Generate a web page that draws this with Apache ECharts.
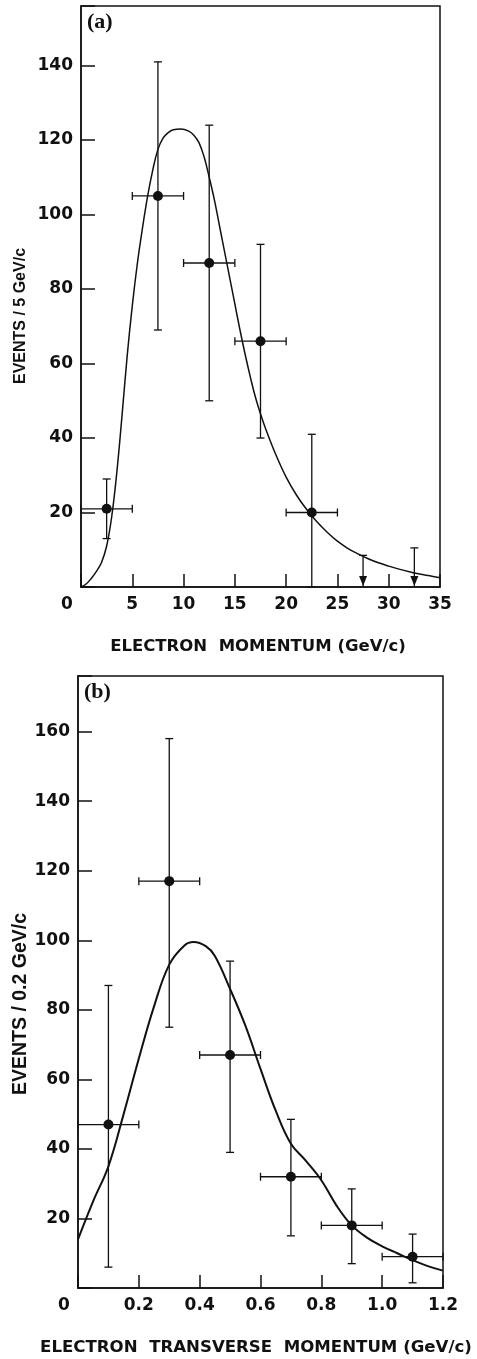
<!DOCTYPE html>
<html>
<head>
<meta charset="utf-8">
<script src="https://cdn.jsdelivr.net/npm/echarts@6/dist/echarts.min.js"></script>
<style>
  html, body { margin: 0; padding: 0; background: #fff; }
  #chart { width: 477px; height: 1359px; }
</style>
</head>
<body>
<div id="chart"></div>
<script>
// ---------- Panel (a): electron momentum ----------
const aX      = [2.5, 7.5, 12.5, 17.5, 22.5];
const aY      = [21, 105, 87, 66, 20];
const aYLow   = [13, 69, 50, 40, 0];
const aYHigh  = [29, 141, 124, 92, 41];
const aXHalf  = [2.5, 2.5, 2.5, 2.5, 2.5];
const aLimX   = [27.5, 32.5];
const aLimY   = [8.5, 10.5];
const aCurveX = [0, 0.5, 1, 1.5, 2, 2.5, 3, 3.5, 4, 4.5, 5, 5.5, 6, 6.5, 7, 7.5, 8, 8.5, 9, 9.75, 10.5, 11, 11.5, 12, 12.5, 13, 13.5, 14, 14.5, 15, 15.5, 16, 16.5, 17, 17.5, 18, 19, 20, 21, 22, 23, 24, 25, 26, 27, 28, 29, 30, 31, 32, 33, 34, 35];
const aCurveY = [0, 0.8, 2.3, 4.2, 6.6, 11, 19, 31, 46, 62, 75.5, 87, 96.5, 105, 112, 117.5, 120.5, 122, 122.8, 123, 122.4, 121.3, 119.3, 115.5, 110, 104, 97, 90, 83, 76, 69, 62.5, 56.5, 51, 46.5, 42.5, 35.5, 29.5, 24.7, 20.8, 17.5, 14.7, 12.3, 10.4, 8.9, 7.6, 6.5, 5.6, 4.8, 4.1, 3.5, 3, 2.5];
const aXTicks = [0, 5, 10, 15, 20, 25, 30, 35];
const aYTicks = [20, 40, 60, 80, 100, 120, 140];

// ---------- Panel (b): electron transverse momentum ----------
const bX      = [0.1, 0.3, 0.5, 0.7, 0.9, 1.1];
const bY      = [47, 117, 67, 32, 18, 9];
const bYLow   = [6, 75, 39, 15, 7, 1.5];
const bYHigh  = [87, 158, 94, 48.5, 28.5, 15.5];
const bXHalf  = [0.1, 0.1, 0.1, 0.1, 0.1, 0.1];
const bCurveX = [0, 0.05, 0.1, 0.15, 0.2, 0.25, 0.3, 0.35, 0.38, 0.42, 0.45, 0.5, 0.55, 0.6, 0.65, 0.7, 0.75, 0.8, 0.85, 0.9, 0.95, 1.0, 1.05, 1.1, 1.15, 1.2];
const bCurveY = [14, 25, 35, 50, 66, 81, 93, 98.5, 99.5, 98.3, 95.5, 86, 75.5, 63, 51, 41.5, 36.5, 31, 23.7, 18, 14.5, 12, 10, 8, 6.3, 5];
const bXTicks = ['0', '0.2', '0.4', '0.6', '0.8', '1.0', '1.2'];
const bYTicks = [20, 40, 60, 80, 100, 120, 140, 160];

const INK = '#111';
const TICK_FONT = { fontFamily: 'DejaVu Sans', fontWeight: 'bold', fontSize: 17, color: INK };

function zip(...arrs) { return arrs[0].map((_, i) => arrs.map(a => a[i])); }

function errRender(params, api) {
  const x = api.value(0), y = api.value(1), lo = api.value(2), hi = api.value(3), hw = api.value(4);
  const pLo = api.coord([x, lo]);
  const pHi = api.coord([x, hi]);
  const pL = api.coord([x - hw, y]);
  const pR = api.coord([x + hw, y]);
  const c = 4;
  const st = { stroke: INK, lineWidth: 1.3 };
  const L = (x1, y1, x2, y2) => ({ type: 'line', shape: { x1, y1, x2, y2 }, style: st });
  return {
    type: 'group',
    children: [
      L(pLo[0], pLo[1], pHi[0], pHi[1]),
      L(pHi[0] - c, pHi[1], pHi[0] + c, pHi[1]),
      L(pLo[0] - c, pLo[1], pLo[0] + c, pLo[1]),
      L(pL[0], pL[1], pR[0], pR[1]),
      L(pL[0], pL[1] - c, pL[0], pL[1] + c),
      L(pR[0], pR[1] - c, pR[0], pR[1] + c)
    ]
  };
}

function limRender(params, api) {
  const x = api.value(0), y = api.value(1);
  const pTop = api.coord([x, y]);
  const pBot = api.coord([x, 0]);
  const c = 4;
  const st = { stroke: INK, lineWidth: 1.3 };
  return {
    type: 'group',
    children: [
      { type: 'line', shape: { x1: pTop[0], y1: pTop[1], x2: pBot[0], y2: pBot[1] }, style: st },
      { type: 'line', shape: { x1: pTop[0] - c, y1: pTop[1], x2: pTop[0] + c, y2: pTop[1] }, style: st },
      { type: 'polygon', shape: { points: [[pBot[0] - 4, pBot[1] - 11], [pBot[0] + 4, pBot[1] - 11], [pBot[0], pBot[1] - 1]] }, style: { fill: INK } }
    ]
  };
}

function xAxisCfg(gi, min, max, interval, fmt) {
  return {
    gridIndex: gi, type: 'value', min, max, interval,
    axisLine: { show: true, onZero: false, lineStyle: { color: INK, width: 1.5 } },
    axisTick: { show: true, inside: true, length: 13, lineStyle: { color: INK, width: 1.5 } },
    axisLabel: Object.assign({}, TICK_FONT, {
      margin: 9,
      formatter: fmt,
      rich: { z: Object.assign({}, TICK_FONT, { padding: [0, 28, 0, 0] }) }
    }),
    splitLine: { show: false }
  };
}
function yAxisCfg(gi, max, ticks) {
  return {
    gridIndex: gi, type: 'value', min: 0, max, interval: 20,
    axisLine: { show: true, lineStyle: { color: INK, width: 1.5 } },
    axisTick: { show: true, inside: true, length: 14, lineStyle: { color: INK, width: 1.5 } },
    axisLabel: Object.assign({}, TICK_FONT, {
      margin: 8,
      formatter: v => (ticks.indexOf(v) >= 0 ? String(v) : '')
    }),
    splitLine: { show: false }
  };
}

const chart = echarts.init(document.getElementById('chart'), null, { renderer: 'canvas' });
chart.setOption({
  backgroundColor: '#fff',
  animation: false,
  grid: [
    { left: 81, top: 6, width: 359, height: 581, show: true, borderColor: INK, borderWidth: 1.5, backgroundColor: 'transparent' },
    { left: 78, top: 676, width: 365, height: 612, show: true, borderColor: INK, borderWidth: 1.5, backgroundColor: 'transparent' }
  ],
  xAxis: [
    xAxisCfg(0, 0, 35, 5, v => (v === 0 ? '{z|0}' : (aXTicks.indexOf(v) >= 0 ? String(v) : ''))),
    xAxisCfg(1, 0, 1.2, 0.2, v => {
      const s = (Math.round(v * 10) / 10).toFixed(1);
      if (Math.abs(v) < 1e-9) return '{z|0}';
      return bXTicks.indexOf(s) >= 0 ? s : '';
    })
  ],
  yAxis: [
    yAxisCfg(0, 156, aYTicks),
    yAxisCfg(1, 176, bYTicks)
  ],
  graphic: [
    { type: 'text', left: 87, top: 11, style: { text: '(a)', font: 'bold 22px "Liberation Serif"', fill: INK } },
    { type: 'text', left: 84, top: 681, style: { text: '(b)', font: 'bold 22px "Liberation Serif"', fill: INK } },
    { type: 'text', x: 21, y: 316, rotation: Math.PI / 2, style: { text: 'EVENTS / 5 GeV/c', font: 'bold 16px "Liberation Sans"', fill: INK, align: 'center', verticalAlign: 'middle' } },
    { type: 'text', x: 21, y: 1004, rotation: Math.PI / 2, style: { text: 'EVENTS / 0.2 GeV/c', font: 'bold 19.5px "Liberation Sans"', fill: INK, align: 'center', verticalAlign: 'middle' } },
    { type: 'text', x: 258, y: 647, style: { text: 'ELECTRON  MOMENTUM (GeV/c)', font: 'bold 16.5px "DejaVu Sans"', fill: INK, align: 'center', verticalAlign: 'middle' } },
    { type: 'text', x: 256, y: 1348, style: { text: 'ELECTRON  TRANSVERSE  MOMENTUM (GeV/c)', font: 'bold 16.6px "DejaVu Sans"', fill: INK, align: 'center', verticalAlign: 'middle' } }
  ],
  series: [
    { type: 'line', xAxisIndex: 0, yAxisIndex: 0, data: zip(aCurveX, aCurveY), smooth: 0.4, showSymbol: false, lineStyle: { color: INK, width: 1.5 }, z: 3 },
    { type: 'custom', xAxisIndex: 0, yAxisIndex: 0, data: zip(aX, aY, aYLow, aYHigh, aXHalf), renderItem: errRender, z: 4 },
    { type: 'custom', xAxisIndex: 0, yAxisIndex: 0, data: zip(aLimX, aLimY), renderItem: limRender, z: 4 },
    { type: 'scatter', xAxisIndex: 0, yAxisIndex: 0, data: zip(aX, aY), symbol: 'circle', symbolSize: 10, itemStyle: { color: INK, opacity: 1 }, z: 5 },

    { type: 'line', xAxisIndex: 1, yAxisIndex: 1, data: zip(bCurveX, bCurveY), smooth: 0.4, showSymbol: false, lineStyle: { color: INK, width: 2 }, z: 3 },
    { type: 'custom', xAxisIndex: 1, yAxisIndex: 1, data: zip(bX, bY, bYLow, bYHigh, bXHalf), renderItem: errRender, z: 4 },
    { type: 'scatter', xAxisIndex: 1, yAxisIndex: 1, data: zip(bX, bY), symbol: 'circle', symbolSize: 10, itemStyle: { color: INK, opacity: 1 }, z: 5 }
  ]
});
</script>
</body>
</html>
